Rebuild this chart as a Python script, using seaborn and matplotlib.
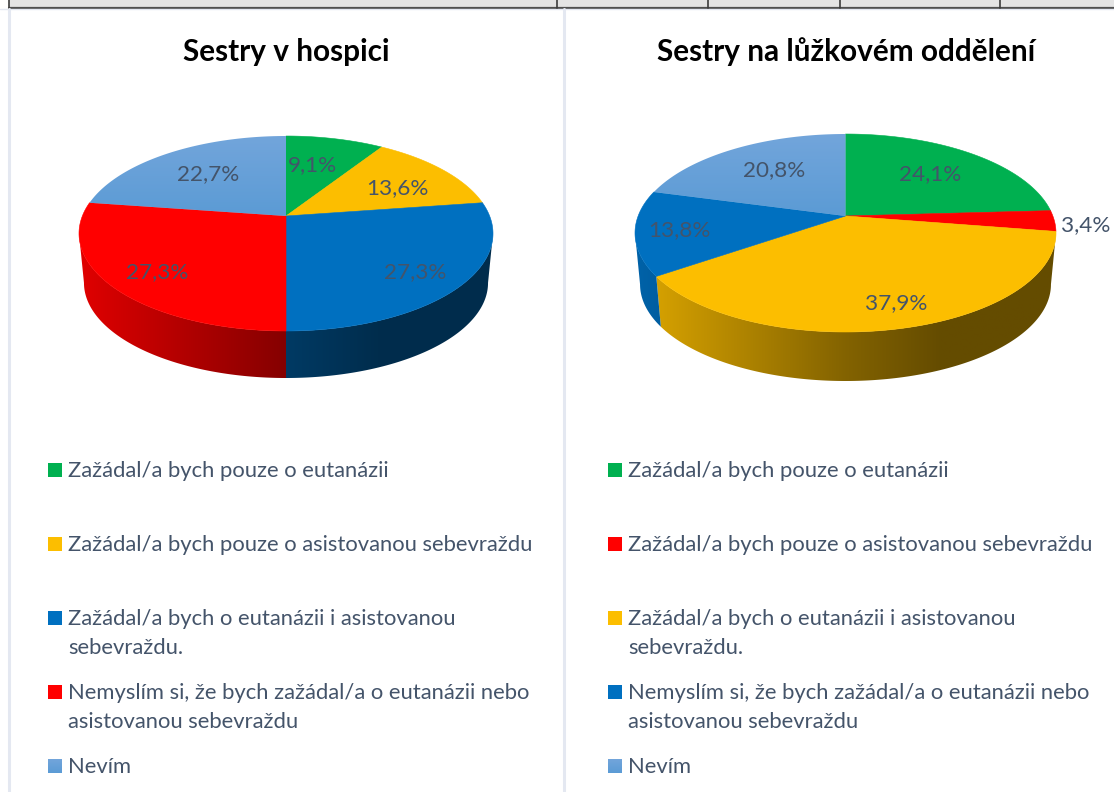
import numpy as np
import matplotlib
matplotlib.use("Agg")
import matplotlib.pyplot as plt
from matplotlib.colors import to_rgb
from matplotlib.patches import Polygon, Rectangle
import seaborn as sns

# Data
TITLE_LEFT = "Sestry v hospici"
TITLE_RIGHT = "Sestry na lůžkovém oddělení"
VALUES_LEFT = [9.1, 13.6, 27.3, 27.3, 22.7]
VALUES_RIGHT = [24.1, 3.4, 37.9, 13.8, 20.8]
CATEGORIES = [
    "Zažádal/a bych pouze o eutanázii",
    "Zažádal/a bych pouze o asistovanou sebevraždu",
    "Zažádal/a bych o eutanázii i asistovanou\nsebevraždu.",
    "Nemyslím si, že bych zažádal/a o eutanázii nebo\nasistovanou sebevraždu",
    "Nevím",
]
COLORS_LEFT = ["#00B050", "#FCBE00", "#0070C0", "#FF0000", "#5B9BD5"]
COLORS_RIGHT = ["#00B050", "#FF0000", "#FCBE00", "#0070C0", "#5B9BD5"]

# Layout, in pixels of the 1114x792 picture
TEXT_COLOR = "#44546A"
PANEL_LINE = "#E4E8F1"
FONT_TEXT = 15.8
FONT_LABEL = 16.2
FONT_TITLE = 21.4
LEFT_PIE = dict(cx=286, cy=216, rx=207, top=136, bottom=331, floor=378)
RIGHT_PIE = dict(cx=845.5, cy=216, rx=210.5, top=134, bottom=332, floor=381)
LABEL_XY_LEFT = [(312, 165), (397, 188), (415, 272), (157, 272), (208, 174)]
LABEL_XY_RIGHT = [(930, 174), (1086, 225), (896, 303), (679, 230), (774, 170)]
LEGEND_BASELINES = [477, 551, 625, 699, 773]
LINE_STEP = 29
FLOOR_SCALE = 0.976


def perspective(pie):
    up = pie["cy"] - pie["top"]
    down = pie["bottom"] - pie["cy"]
    return (down - up) / (down + up)


def make_projection(pie):
    """Vraci funkci, ktera promita bod jednotkoveho kruhu do obrazu (perspektiva)."""
    up = pie["cy"] - pie["top"]
    down = pie["bottom"] - pie["cy"]
    k = perspective(pie)
    h = up * (1 + k)
    r = pie["rx"] * np.sqrt(1 - k ** 2)
    floor_shift = pie["floor"] - pie["cy"] - FLOOR_SCALE * down

    def project(theta, floor=False):
        u, v = np.sin(theta), np.cos(theta)
        scale = FLOOR_SCALE if floor else 1.0
        shift = floor_shift if floor else 0.0
        x = pie["cx"] + scale * r * u / (1 + k * v)
        y = pie["cy"] + shift - scale * h * v / (1 + k * v)
        return x, y

    return project


def side_shade(t):
    # t = -1 levy okraj, 0 stred, 1 pravy okraj
    return np.interp(t, [-1, 0, 0.45, 1], [0.88, 0.52, 0.40, 0.40])


def gradient_fill(ax, patch, top_color, bottom_color, extent):
    ax.add_patch(patch)
    patch.set_facecolor("none")
    patch.set_edgecolor("none")
    ramp = np.linspace(to_rgb(top_color), to_rgb(bottom_color), 64)[:, None, :]
    img = ax.imshow(ramp, extent=extent, aspect="auto", interpolation="bilinear", zorder=2.5)
    img.set_clip_path(patch)


def draw_side(ax, project, pie, start, end, color):
    # bocni stena: jen cast mezi obrysovymi uhly, jinak se polygon prelozi
    silhouette = np.arccos(-perspective(pie))
    lo = max(start, silhouette)
    hi = min(end, 2 * np.pi - silhouette)
    if lo >= hi:
        return
    thetas = np.linspace(lo, hi, 300)
    x1, y1 = project(thetas)
    x2, y2 = project(thetas[::-1], floor=True)
    xs = np.r_[x1, x2]
    ys = np.r_[y1, y2]
    patch = Polygon(np.c_[xs, ys], closed=True, facecolor="none", edgecolor="none")
    ax.add_patch(patch)
    grid = np.linspace(xs.min(), xs.max(), 256)
    shade = side_shade((grid - pie["cx"]) / pie["rx"])
    ramp = (np.array(to_rgb(color))[None, :] * shade[:, None])[None, :, :]
    img = ax.imshow(ramp, extent=(xs.min(), xs.max(), ys.max(), ys.min()), aspect="auto",
                    interpolation="bilinear", zorder=1)
    img.set_clip_path(patch)


def draw_pie(ax, values, colors, pie, label_xy):
    project = make_projection(pie)
    edges = np.deg2rad(np.cumsum([0] + list(values)) * 3.6)

    for start, end, color in zip(edges[:-1], edges[1:], colors):
        draw_side(ax, project, pie, start, end, color)

    # horni plocha
    for start, end, color in zip(edges[:-1], edges[1:], colors):
        thetas = np.linspace(start, end, 200)
        x, y = project(thetas)
        xs = np.r_[pie["cx"], x]
        ys = np.r_[pie["cy"], y]
        if color == "#5B9BD5":
            patch = Polygon(np.c_[xs, ys], closed=True, zorder=2)
            gradient_fill(ax, patch, "#72A5DB", "#5B9BD5",
                          (xs.min(), xs.max(), ys.max(), ys.min()))
        else:
            ax.fill(xs, ys, color=color, lw=0.4, zorder=2)

    for value, (x, y) in zip(values, label_xy):
        ax.text(x, y, f"{value:.1f}%".replace(".", ","), ha="center", va="center",
                fontsize=FONT_LABEL, color=TEXT_COLOR, zorder=3)


def draw_legend(ax, colors, swatch_x, text_x):
    for name, color, baseline in zip(CATEGORIES, colors, LEGEND_BASELINES):
        if color == "#5B9BD5":
            patch = Rectangle((swatch_x, baseline - 14), 14, 14, zorder=2)
            gradient_fill(ax, patch, "#72A5DB", "#5B9BD5",
                          (swatch_x, swatch_x + 14, baseline, baseline - 14))
        else:
            ax.add_patch(Rectangle((swatch_x, baseline - 14), 14, 14, facecolor=color,
                                   edgecolor="none", zorder=2))
        for i, line in enumerate(name.split("\n")):
            ax.text(text_x, baseline + i * LINE_STEP, line, ha="left", va="baseline",
                    fontsize=FONT_TEXT, color=TEXT_COLOR)


def draw_frame(ax):
    # zbytek tabulky nahore a linky panelu
    ax.add_patch(Rectangle((9, 0), 1105, 7.5, facecolor="#E4E4E4", edgecolor="none"))
    ax.plot([9, 1114], [7.5, 7.5], color="#505050", lw=1.6)
    ax.plot([0, 1114], [9, 9], color=PANEL_LINE, lw=1)
    for x in [9, 556.5, 708, 840, 1000]:
        ax.plot([x, x], [0, 7.5], color="#3C3C3C", lw=1.2)
    for x in [8.5, 564]:
        ax.plot([x, x], [9, 792], color=PANEL_LINE, lw=2.2)


def main():
    sns.set_theme(style="white")
    plt.rcParams["font.family"] = ["Lato", "DejaVu Sans"]

    fig = plt.figure(figsize=(11.14, 7.92), dpi=100)
    ax = fig.add_axes([0, 0, 1, 1])
    draw_frame(ax)

    palette_left = [c.upper() for c in sns.color_palette(COLORS_LEFT).as_hex()]
    palette_right = [c.upper() for c in sns.color_palette(COLORS_RIGHT).as_hex()]

    draw_pie(ax, VALUES_LEFT, palette_left, LEFT_PIE, LABEL_XY_LEFT)
    draw_pie(ax, VALUES_RIGHT, palette_right, RIGHT_PIE, LABEL_XY_RIGHT)
    draw_legend(ax, palette_left, 48, 68)
    draw_legend(ax, palette_right, 608, 628)

    ax.text(286, 52, TITLE_LEFT, ha="center", va="center", fontsize=FONT_TITLE,
            fontweight="bold", color="black")
    ax.text(846, 52, TITLE_RIGHT, ha="center", va="center", fontsize=FONT_TITLE,
            fontweight="bold", color="black")

    ax.set_xlim(0, 1114)
    ax.set_ylim(792, 0)
    ax.axis("off")
    fig.savefig("out.png", dpi=100)
    plt.close(fig)


if __name__ == "__main__":
    main()
